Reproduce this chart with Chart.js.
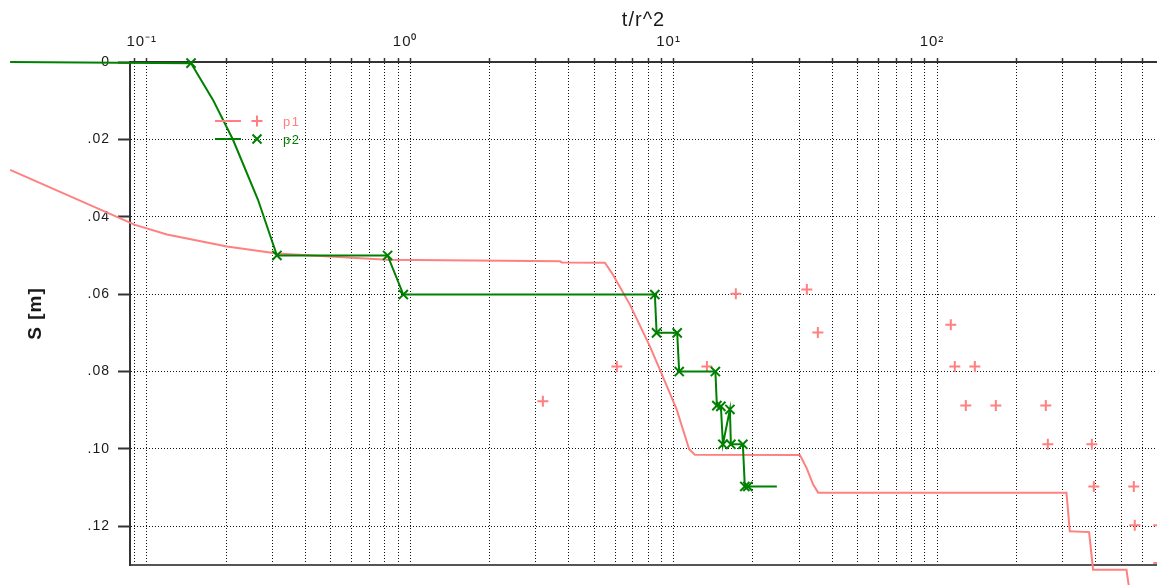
<!DOCTYPE html>
<html>
<head>
<meta charset="utf-8">
<script src="https://cdn.jsdelivr.net/npm/chart.js@4.4.1/dist/chart.umd.min.js"></script>
<style>
  html, body { margin: 0; padding: 0; background: #ffffff; overflow: hidden; }
  #wrap { width: 1157px; height: 585px; position: relative; }
</style>
</head>
<body>
<div id="wrap"><canvas id="chart"></canvas></div>
<script>
// ---- axis text / ticks ----
const xAxisTitle = 't/r^2';
const yAxisTitle = 'S [m]';
const xGridValues = [0.09, 0.1, 0.2, 0.3, 0.4, 0.5, 0.6, 0.7, 0.8, 0.9,
  1, 2, 3, 4, 5, 6, 7, 8, 9, 10, 20, 30, 40, 50, 60, 70, 80, 90,
  100, 200, 300, 400, 500, 600];
const xMajorValues = [0.1, 1, 10, 100];
const xMajorLabels = ['10⁻¹', '10⁰', '10¹', '10²'];
const yTickValues = [0, 0.02, 0.04, 0.06, 0.08, 0.10, 0.12];
const yTickLabels = ['0', '.02', '.04', '.06', '.08', '.10', '.12'];
const xRange = [0.0864, 684];
const yRange = [0, 0.13];

// ---- series p1 (curve) ----
const p1Label = 'p1';
const p1LineX = [0.0303, 0.0903, 0.1194, 0.2017, 0.3121, 0.8166, 3.703, 3.77, 5.487, 5.886,
  6.827, 8.130, 8.872, 10.27, 11.46, 12.04, 30.16, 31.97, 33.87, 35.38,
  310.0, 319.2, 377.8, 391.2, 523.9, 536.8];
const p1LineY = [0.0279, 0.0421, 0.0446, 0.0477, 0.0495, 0.0511, 0.0515, 0.0518, 0.0519, 0.0550,
  0.0627, 0.0735, 0.0795, 0.0898, 0.1001, 0.1015, 0.1016, 0.1049, 0.1092, 0.1113,
  0.1113, 0.1213, 0.1215, 0.1312, 0.1312, 0.1363];
// ---- series p1 (observed points, "+") ----
const p1ObsX = [3.19, 6.09, 13.38, 17.23, 32.05, 35.29, 112.8, 116.8, 139.2, 128.6,
  167.2, 258.8, 263.4, 386.9, 393.7, 558.4, 563.3, 694.5, 694.5];
const p1ObsY = [0.0877, 0.0787, 0.0787, 0.0599, 0.0588, 0.0699, 0.0679, 0.0787, 0.0787, 0.0888,
  0.0888, 0.0888, 0.0988, 0.0988, 0.1097, 0.1097, 0.1197, 0.1197, 0.1295];

// ---- series p2 (curve) ----
const p2Label = 'p2';
const p2LineX = [0.0303, 0.1473, 0.1785, 0.2126, 0.2645, 0.3121, 0.821, 0.942, 8.49, 8.62,
  10.32, 10.50, 14.41, 14.60, 15.12, 15.39, 16.36, 16.50, 18.32, 18.64, 19.14, 24.66];
const p2LineY = [0, 0.0003, 0.0098, 0.0201, 0.0356, 0.0500, 0.0500, 0.0601, 0.0601, 0.0700,
  0.0700, 0.0800, 0.0800, 0.0888, 0.0890, 0.0988, 0.0898, 0.0988, 0.0988, 0.1097, 0.1097, 0.1097];
// ---- series p2 (marked points, "x") ----
const p2MarkX = [0.1473, 0.3121, 0.821, 0.942, 8.49, 8.62, 10.32, 10.50, 14.41, 14.60,
  15.12, 15.39, 16.36, 16.50, 18.32, 18.64, 19.14];
const p2MarkY = [0.0003, 0.0500, 0.0500, 0.0601, 0.0601, 0.0700, 0.0700, 0.0800, 0.0800, 0.0888,
  0.0890, 0.0988, 0.0898, 0.0988, 0.0988, 0.1097, 0.1097];

const PINK = 'rgb(255,128,128)';
const GREEN = 'rgb(0,128,0)';
const FONT = '"Liberation Sans", Arial, Helvetica, sans-serif';

const toXY = (xs, ys) => xs.map((x, i) => ({x: x, y: ys[i]}));

const spacingPlugin = {
  id: 'spacing',
  beforeDraw(chart) { chart.ctx.letterSpacing = '1px'; }
};

const legendPlugin = {
  id: 'inlineLegend',
  afterDraw(chart) {
    const ctx = chart.ctx;
    const a = chart.chartArea;
    const items = [
      {label: p1Label, color: PINK, style: 'plus', dy: 59},
      {label: p2Label, color: GREEN, style: 'x', dy: 77}
    ];
    ctx.save();
    ctx.letterSpacing = '1.5px';
    items.forEach(it => {
      const y = a.top + it.dy;
      ctx.strokeStyle = it.color;
      ctx.lineWidth = 2;
      ctx.beginPath();
      ctx.moveTo(a.left + 85, y);
      ctx.lineTo(a.left + 111, y);
      ctx.stroke();
      const mx = a.left + 127;
      ctx.beginPath();
      if (it.style === 'plus') {
        ctx.moveTo(mx - 5.5, y); ctx.lineTo(mx + 5.5, y);
        ctx.moveTo(mx, y - 5.5); ctx.lineTo(mx, y + 5.5);
      } else {
        ctx.moveTo(mx - 4.5, y - 4.5); ctx.lineTo(mx + 4.5, y + 4.5);
        ctx.moveTo(mx - 4.5, y + 4.5); ctx.lineTo(mx + 4.5, y - 4.5);
      }
      ctx.stroke();
      ctx.fillStyle = it.color;
      ctx.font = '13px ' + FONT;
      ctx.textBaseline = 'middle';
      ctx.textAlign = 'left';
      ctx.fillText(it.label, a.left + 153, y + 1);
    });
    ctx.restore();
  }
};

new Chart(document.getElementById('chart'), {
  type: 'line',
  data: {
    datasets: [
      { label: p2Label + ' markers', data: toXY(p2MarkX, p2MarkY), showLine: false,
        pointStyle: 'crossRot', pointRadius: 6.5, pointBorderWidth: 2,
        pointBorderColor: GREEN, pointBackgroundColor: GREEN, borderColor: GREEN, clip: false },
      { label: p2Label, data: toXY(p2LineX, p2LineY), borderColor: GREEN, borderWidth: 2,
        pointRadius: 0, tension: 0, fill: false, clip: false },
      { label: p1Label + ' points', data: toXY(p1ObsX, p1ObsY), showLine: false,
        pointStyle: 'cross', pointRadius: 5.5, pointBorderWidth: 2,
        pointBorderColor: PINK, pointBackgroundColor: PINK, borderColor: PINK, clip: false },
      { label: p1Label, data: toXY(p1LineX, p1LineY), borderColor: PINK, borderWidth: 2,
        pointRadius: 0, tension: 0, fill: false, clip: false }
    ]
  },
  options: {
    responsive: true,
    maintainAspectRatio: false,
    devicePixelRatio: 1,
    animation: false,
    events: [],
    layout: { autoPadding: false, padding: { left: 0, top: 0, right: 0, bottom: 20 } },
    plugins: { legend: { display: false }, tooltip: { enabled: false }, title: { display: false } },
    scales: {
      x: {
        type: 'logarithmic', position: 'top', min: xRange[0], max: xRange[1],
        afterBuildTicks: (scale) => { scale.ticks = xGridValues.map(v => ({value: v})); },
        afterFit: (scale) => { scale.height = 62; },
        title: { display: true, text: xAxisTitle, color: '#1a1a1a', font: { family: FONT, size: 20 }, padding: { top: 8, bottom: 0 } },
        ticks: {
          autoSkip: false, maxRotation: 0, minRotation: 0, padding: 7, labelOffset: -5,
          color: '#1a1a1a', font: { family: FONT, size: 15 },
          callback: (value) => {
            const i = xMajorValues.findIndex(v => Math.abs(value / v - 1) < 1e-6);
            return i >= 0 ? xMajorLabels[i] : '';
          }
        },
        grid: { display: true, color: '#111111', lineWidth: 1, tickLength: 4, tickColor: '#333333', tickWidth: 1.5 },
        border: { display: true, color: '#333333', width: 2, dash: [1, 2] }
      },
      x2: {
        type: 'linear', position: 'bottom', display: true,
        afterFit: (scale) => { scale.height = 0; },
        ticks: { display: false },
        grid: { display: false, drawTicks: false },
        border: { display: true, color: '#555555', width: 2 }
      },
      y: {
        type: 'linear', position: 'left', reverse: true, min: yRange[0], max: yRange[1],
        afterBuildTicks: (scale) => { scale.ticks = yTickValues.map(v => ({value: v})); },
        afterFit: (scale) => { scale.width = 130; },
        title: { display: true, text: yAxisTitle, color: '#1a1a1a', font: { family: FONT, size: 19, weight: 'bold' }, padding: { top: 24, bottom: 0 } },
        ticks: {
          padding: 8, color: '#1a1a1a', font: { family: FONT, size: 14 },
          callback: (value) => {
            const i = yTickValues.findIndex(v => Math.abs(v - value) < 1e-9);
            return i >= 0 ? yTickLabels[i] : '';
          }
        },
        grid: { display: true, color: '#111111', lineWidth: 1, tickLength: 12, tickColor: '#333333', tickWidth: 2 },
        border: { display: true, color: '#333333', width: 2, dash: [1, 2] }
      }
    }
  },
  plugins: [spacingPlugin, legendPlugin]
});
</script>
</body>
</html>
